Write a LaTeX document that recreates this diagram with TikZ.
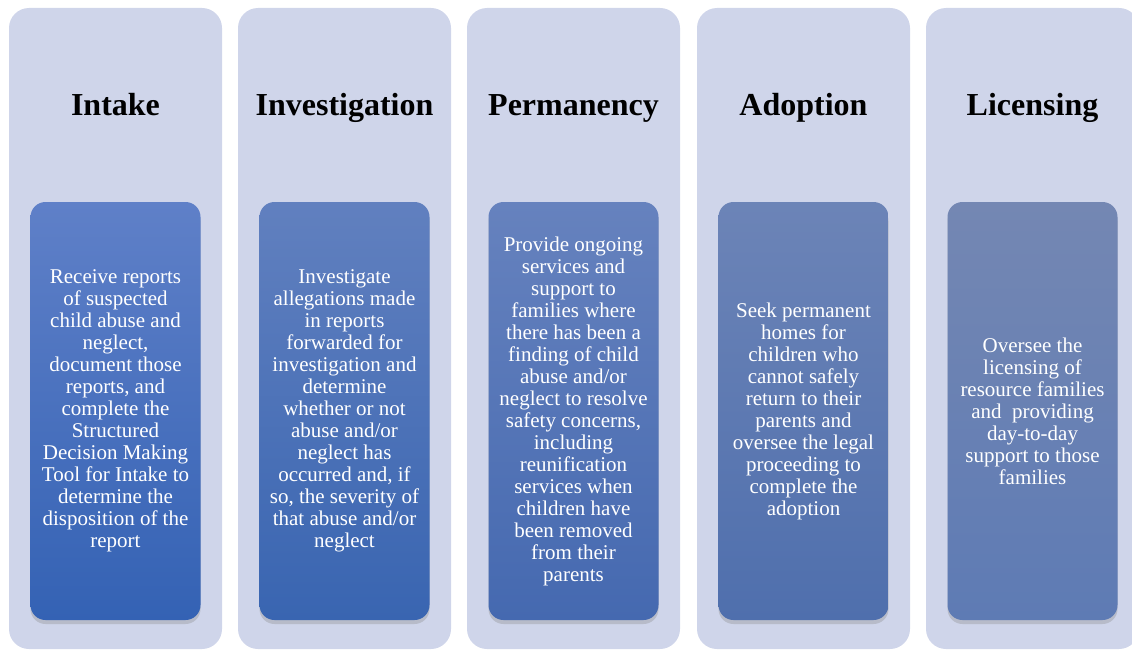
\documentclass[tikz,border=0pt]{standalone}
\usepackage{fontspec}
\setmainfont{Liberation Serif}
\usetikzlibrary{shadows}

\definecolor{panelgray}{HTML}{CFD5EA}
\definecolor{intaketop}{HTML}{5F80C8}
\definecolor{intakebot}{HTML}{3462B4}
\definecolor{investtop}{HTML}{6180BF}
\definecolor{investbot}{HTML}{3965B1}
\definecolor{permtop}{HTML}{6682BE}
\definecolor{permbot}{HTML}{4569B0}
\definecolor{adopttop}{HTML}{6C84B7}
\definecolor{adoptbot}{HTML}{4F6FAD}
\definecolor{lictop}{HTML}{7487B3}
\definecolor{licbot}{HTML}{5E7BB4}

\begin{document}
\begin{tikzpicture}[x=1pt,y=-1pt,
  panel/.style={fill=panelgray,rounded corners=20pt},
  heading/.style={font=\fontsize{32}{36}\selectfont\bfseries,text=black,anchor=base},
  card/.style={rounded corners=15pt,minimum width=170pt,minimum height=418pt,
    inner sep=0pt,align=center,text=white,font=\fontsize{21}{22}\selectfont,
    drop shadow={shadow xshift=0pt,shadow yshift=-4pt,opacity=0.3}}]
\useasboundingbox (0,0) rectangle (1132,650);
\clip (0,0) rectangle (1132,650);
%\draw[step=50,gray,very thin] (0,0) grid (1132,650); %background grid


\fill[panel] (9,8) rectangle (222,649);
\node[heading] (intaketitle) at (115.5,116) {Intake};
\node[card,top color=intaketop,bottom color=intakebot] (intakecard) at (115.5,411)
  {Receive reports\\of suspected\\child abuse and\\neglect,\\document those\\reports, and\\complete the\\Structured\\Decision Making\\Tool for Intake to\\determine the\\disposition of the\\report};


\fill[panel] (238,8) rectangle (451,649);
\node[heading] (investtitle) at (344.5,116) {Investigation};
\node[card,top color=investtop,bottom color=investbot] (investcard) at (344.5,411)
  {Investigate\\allegations made\\in reports\\forwarded for\\investigation and\\determine\\whether or not\\abuse and/or\\neglect has\\occurred and, if\\so, the severity of\\that abuse and/or\\neglect};


\fill[panel] (467,8) rectangle (680,649);
\node[heading] (permtitle) at (573.5,116) {Permanency};
\node[card,top color=permtop,bottom color=permbot] (permcard) at (573.5,411)
  {Provide ongoing\\services and\\support to\\families where\\there has been a\\finding of child\\abuse and/or\\neglect to resolve\\safety concerns,\\including\\reunification\\services when\\children have\\been removed\\from their\\parents};


\fill[panel] (697,8) rectangle (910,649);
\node[heading] (adopttitle) at (803.5,116) {Adoption};
\node[card,top color=adopttop,bottom color=adoptbot] (adoptcard) at (803.5,411)
  {Seek permanent\\homes for\\children who\\cannot safely\\return to their\\parents and\\oversee the legal\\proceeding to\\complete the\\adoption};


\fill[panel] (926,8) rectangle (1139,649);
\node[heading] (lictitle) at (1032.5,116) {Licensing};
\node[card,top color=lictop,bottom color=licbot] (liccard) at (1032.5,411)
  {Oversee the\\licensing of\\resource families\\and~ providing\\day-to-day\\support to those\\families};

\end{tikzpicture}
\end{document}
